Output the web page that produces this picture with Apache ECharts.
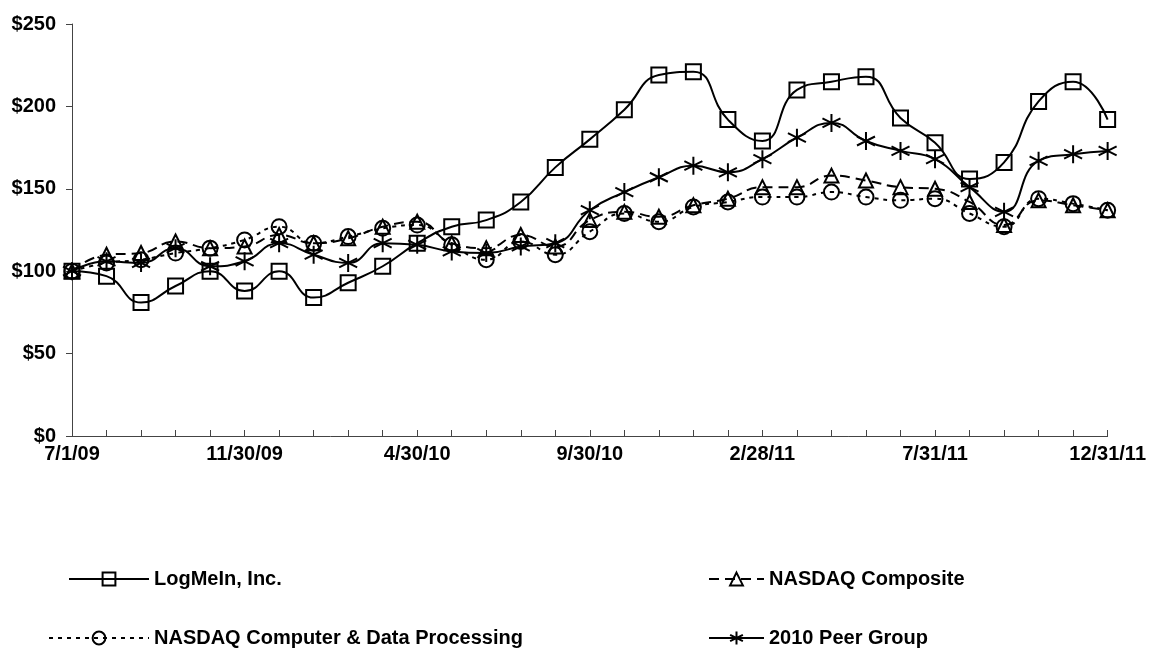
<!DOCTYPE html>
<html>
<head>
<meta charset="utf-8">
<script src="https://cdn.jsdelivr.net/npm/echarts@6/dist/echarts.min.js"></script>
<style>
html,body{margin:0;padding:0;background:#fff;}
#chart{width:1149px;height:650px;}
</style>
</head>
<body>
<div id="chart"></div>
<script>
var dates = ['7/1/09','7/31/09','8/31/09','9/30/09','10/31/09','11/30/09','12/31/09','1/31/10','2/28/10','3/31/10','4/30/10','5/31/10','6/30/10','7/31/10','8/31/10','9/30/10','10/31/10','11/30/10','12/31/10','1/31/11','2/28/11','3/31/11','4/30/11','5/31/11','6/30/11','7/31/11','8/31/11','9/30/11','10/31/11','11/30/11','12/31/11'];
var logmein = [100,97,81,91,100,88,100,84,93,103,117,127,131,142,163,180,198,219,221,192,179,210,215,218,193,178,156,166,203,215,192];
var nasdaqComposite = [100,110,111,118,114,115,122,117,120,127,130,117,114,122,115,131,136,133,140,144,151,151,158,155,151,150,142,128,143,140,137];
var nasdaqComputer = [100,105,107,111,114,119,127,117,121,126,128,116,107,118,110,124,135,130,139,142,145,145,148,145,143,144,135,127,144,141,137];
var peerGroup = [100,106,105,114,103,106,117,110,105,117,116,112,111,115,117,137,148,157,164,160,168,181,190,179,173,168,151,136,167,171,173];
var yTicks = [0,50,100,150,200,250];

var FONT = 'Liberation Sans';
var chart = echarts.init(document.getElementById('chart'));
var asterisk = 'path://M10,0L10,20M1.34,5L18.66,15M1.34,15L18.66,5';

function mkSeries(name, data, symbol, size, dash) {
  return {
    name: name, type: 'line', data: data, smooth: true,
    symbol: symbol, symbolSize: size,
    lineStyle: {color: '#000', width: 2, type: dash},
    itemStyle: symbol === asterisk
      ? {color: '#000', borderColor: '#000', borderWidth: 2}
      : {color: 'transparent', borderColor: '#000', borderWidth: 2},
    emphasis: {disabled: true},
    animation: false
  };
}

var legendText = {fontFamily: FONT, fontWeight: 'bold', fontSize: 20, color: '#000'};
function mkLegend(name, left, top, w) {
  return {data: [name], left: left, top: top, itemWidth: w, itemHeight: 16,
    itemGap: 0, textStyle: legendText, selectedMode: false, padding: 0};
}

chart.setOption({
  backgroundColor: '#fff',
  animation: false,
  grid: {left: 72, right: 39, top: 24, bottom: 214, containLabel: false},
  xAxis: {
    type: 'category', data: dates, boundaryGap: false,
    axisLine: {lineStyle: {color: '#444', width: 1}},
    axisTick: {show: true, inside: true, length: 6, interval: 0, lineStyle: {color: '#444'}},
    axisLabel: {interval: 4, margin: 8, fontFamily: FONT, fontWeight: 'bold', fontSize: 20, color: '#000'},
    splitLine: {show: false}
  },
  yAxis: {
    type: 'value', min: 0, max: 250, interval: 50,
    axisLine: {show: true, lineStyle: {color: '#444', width: 1}},
    axisTick: {show: true, length: 6, lineStyle: {color: '#444'}},
    axisLabel: {margin: 16, fontFamily: FONT, fontWeight: 'bold', fontSize: 20, color: '#000',
      formatter: function (v) { return yTicks.indexOf(v) >= 0 ? '$' + v : ''; }},
    splitLine: {show: false}
  },
  legend: [
    mkLegend('LogMeIn, Inc.', 68, 569, 80),
    mkLegend('NASDAQ Composite', 708, 569, 55),
    mkLegend('NASDAQ Computer & Data Processing', 48, 628, 100),
    mkLegend('2010 Peer Group', 708, 628, 55)
  ],
  series: [
    mkSeries('LogMeIn, Inc.', logmein, 'rect', 15, 'solid'),
    mkSeries('NASDAQ Composite', nasdaqComposite, 'triangle', 14, [10, 6]),
    mkSeries('NASDAQ Computer & Data Processing', nasdaqComputer, 'circle', 15, [4, 5]),
    mkSeries('2010 Peer Group', peerGroup, asterisk, 18, 'solid')
  ]
});
</script>
</body>
</html>
